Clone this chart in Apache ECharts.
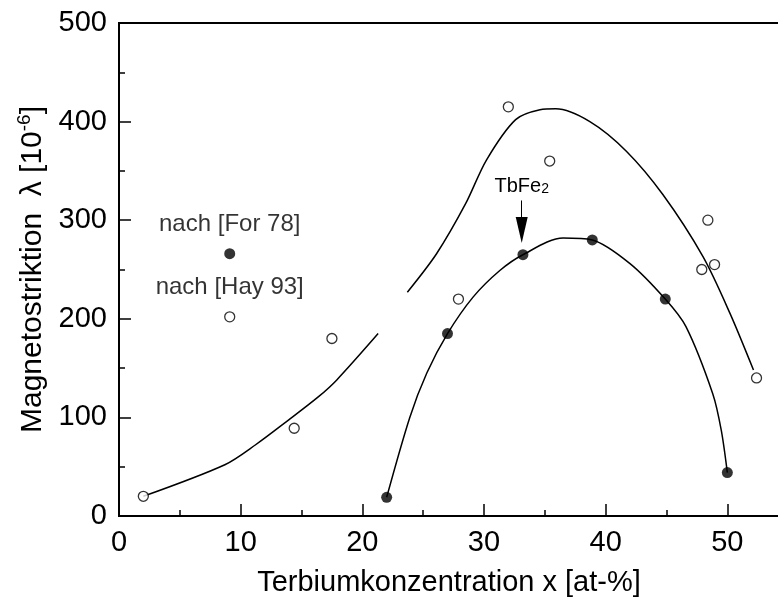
<!DOCTYPE html>
<html>
<head>
<meta charset="utf-8">
<script src="https://cdn.jsdelivr.net/npm/echarts@6/dist/echarts.min.js"></script>
<style>
  html, body { margin: 0; background: #fff; }
  #main { width: 778px; height: 600px; }
</style>
</head>
<body>
<div id="main"></div>
<script>
var chartDom = document.getElementById('main');
var myChart = echarts.init(chartDom);
var option;

// measured points, [x in at-%, lambda in 1e-6]
const hayPoints = [
    [2, 20], [14.4, 89], [17.5, 180], [27.9, 220], [32.0, 415],
    [35.4, 360], [47.9, 250], [48.4, 300], [48.95, 255], [52.4, 140]
];
const forPoints = [
    [22, 19], [27, 185], [33.2, 265], [38.9, 280], [44.9, 220], [50, 44]
];

// hand drawn fit curves
const hayFitLow = [
    [2, 20], [8.7, 52], [11.2, 72], [13.9, 97],
    [16.4, 121], [17.9, 138], [21.3, 185]
];
const hayFitHigh = [
    [23.7, 227], [26.1, 266], [28.5, 317], [30.2, 361], [32.6, 402],
    [34.6, 412], [35.9, 413], [38.7, 400], [41.7, 370], [44.7, 326],
    [48, 263], [50.2, 206], [52.15, 148]
];
const forFit = [
    [22, 19], [23.9, 100], [25.3, 145], [27, 185], [29.1, 222],
    [31.3, 249], [33.2, 265], [36.5, 282], [38.9, 280], [42, 256],
    [44.9, 220], [46.6, 192], [48.8, 124], [49.5, 87], [50, 44]
];

// legend markers placed inside the plot
const legendNames = ['nach [For 78]', 'nach [Hay 93]'];
const legendPoints = [[9.1, 266], [9.1, 202]];

// TbFe2 arrow: x, start y, end y
const tbFe2Arrow = [33.1, 320, 290];

const font = 'Liberation Sans';
const black = '#000';

const filledDot = {
    color: black
};
const openDot = {
    color: '#fff',
    borderColor: black,
    borderWidth: 1.3
};

option = {
    animation: false,
    grid: {
        left: 119,
        top: 23,
        width: 730,
        height: 493,
        outerBoundsMode: 'none',
        show: true,
        borderColor: black,
        borderWidth: 2
    },
    xAxis: {
        type: 'value',
        min: 0,
        max: 60,
        interval: 10,
        name: 'Terbiumkonzentration x [at-%]',
        nameLocation: 'middle',
        nameGap: 52,
        nameTextStyle: {
            fontFamily: font,
            fontSize: 29,
            color: black,
            padding: [0, 70, 0, 0]
        },
        axisLine: { lineStyle: { color: black, width: 2 } },
        axisTick: { inside: true, length: 12, lineStyle: { color: black, width: 1.5 } },
        minorTick: { show: true, splitNumber: 2, length: 6, lineStyle: { color: black, width: 1.5 } },
        splitLine: { show: false },
        axisLabel: {
            fontFamily: font,
            fontSize: 29,
            color: black,
            margin: 12,
            showMaxLabel: false
        }
    },
    yAxis: {
        type: 'value',
        min: 0,
        max: 500,
        interval: 100,
        name: '{a|Magnetostriktion  λ [10}{s|-6}{a|]}',
        nameLocation: 'middle',
        nameGap: 68,
        nameTextStyle: {
            rich: {
                a: { fontFamily: font, fontSize: 30, color: black, lineHeight: 34 },
                s: { fontFamily: font, fontSize: 19, color: black, verticalAlign: 'top', lineHeight: 34 }
            }
        },
        axisLine: { show: true, lineStyle: { color: black, width: 2 } },
        axisTick: { show: true, inside: true, length: 12, lineStyle: { color: black, width: 1.5 } },
        minorTick: { show: true, splitNumber: 2, length: 6, lineStyle: { color: black, width: 1.5 } },
        splitLine: { show: false },
        axisLabel: {
            fontFamily: font,
            fontSize: 29,
            color: black,
            margin: 12
        }
    },
    series: [
        {
            name: 'Fit Hay 93 a',
            type: 'line',
            data: hayFitLow,
            smooth: 0.3,
            showSymbol: false,
            lineStyle: { color: black, width: 1.5 },
            z: 1
        },
        {
            name: 'Fit Hay 93 b',
            type: 'line',
            data: hayFitHigh,
            smooth: 0.3,
            showSymbol: false,
            lineStyle: { color: black, width: 1.5 },
            z: 1
        },
        {
            name: 'Fit For 78',
            type: 'line',
            data: forFit,
            smooth: 0.3,
            showSymbol: false,
            lineStyle: { color: black, width: 1.5 },
            z: 1,
            markLine: {
                silent: true,
                symbol: ['none', 'triangle'],
                symbolSize: [12, 26],
                lineStyle: { color: black, width: 1, type: 'solid' },
                label: {
                    show: true,
                    position: 'start',
                    distance: 4,
                    formatter: '{a|TbFe}{b|2}',
                    rich: {
                        a: { fontFamily: font, fontSize: 20, color: black },
                        b: { fontFamily: font, fontSize: 14, color: black, verticalAlign: 'bottom', padding: [6, 0, 0, 0] }
                    }
                },
                data: [[
                    { coord: [tbFe2Arrow[0], tbFe2Arrow[1]] },
                    { coord: [tbFe2Arrow[0], tbFe2Arrow[2]] }
                ]]
            }
        },
        {
            name: 'Hay 93',
            type: 'scatter',
            data: hayPoints,
            symbol: 'circle',
            symbolSize: 10,
            itemStyle: openDot,
            z: 3
        },
        {
            name: 'For 78',
            type: 'scatter',
            data: forPoints,
            symbol: 'circle',
            symbolSize: 11,
            itemStyle: filledDot,
            z: 3
        },
        {
            name: 'Legende',
            type: 'scatter',
            symbol: 'circle',
            symbolSize: 10,
            z: 3,
            label: {
                show: true,
                position: 'top',
                distance: 12,
                fontFamily: font,
                fontSize: 24,
                color: black,
                formatter: function (p) { return legendNames[p.dataIndex]; }
            },
            data: [
                { value: legendPoints[0], itemStyle: filledDot, symbolSize: 11 },
                { value: legendPoints[1], itemStyle: openDot }
            ]
        }
    ]
};

option && myChart.setOption(option);
</script>
</body>
</html>
